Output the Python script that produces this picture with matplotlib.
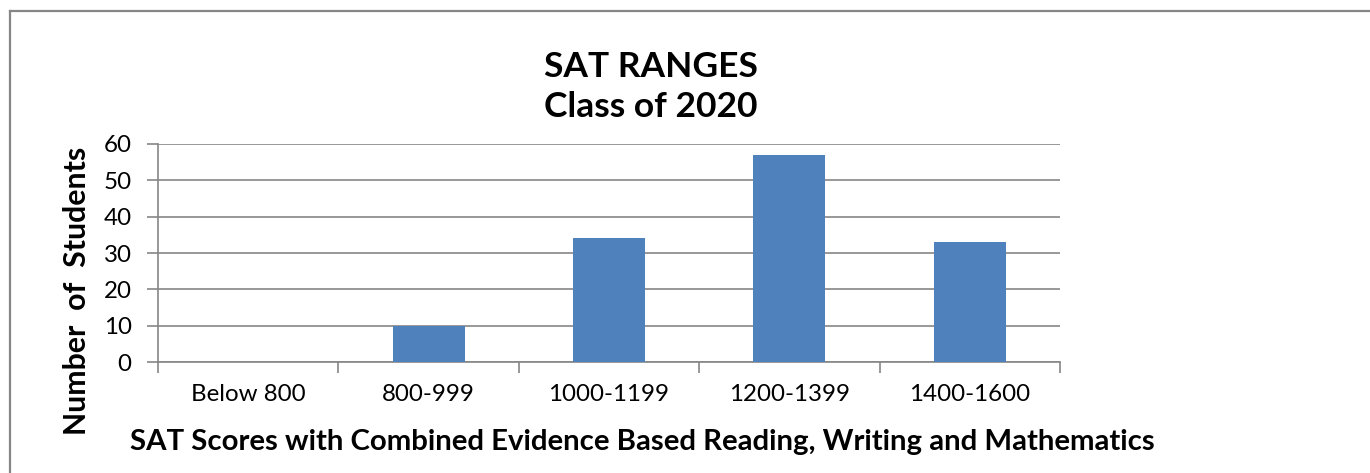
import matplotlib.pyplot as plt
from matplotlib.lines import Line2D

categories = ["Below 800", "800-999", "1000-1199", "1200-1399", "1400-1600"]
students = [0, 10, 34, 57, 33]
y_ticks = [0, 10, 20, 30, 40, 50, 60]

title_lines = ["SAT RANGES", "Class of 2020"]
x_title = "SAT Scores with Combined Evidence Based Reading, Writing and Mathematics"
y_title = "Number  of  Students"

W, H = 1370, 473
BAR = "#4F81BD"
GRID = "#868686"

plt.rcParams["font.family"] = ["Lato", "DejaVu Sans"]

fig = plt.figure(figsize=(W / 100, H / 100), dpi=100)
ax = fig.add_axes([158 / W, 1 - 362 / H, 902 / W, 218 / H])

xs = list(range(len(categories)))
ax.bar(xs, students, width=0.4, color=BAR, zorder=3)

ax.set_xlim(-0.5, len(categories) - 0.5)
ax.set_ylim(0, 60)
ax.set_yticks(y_ticks)
ax.yaxis.grid(True, color=GRID, linewidth=1.2, zorder=0)
ax.set_xticks(xs)
ax.set_xticklabels(categories)
ax.set_xticks([x - 0.5 for x in xs] + [xs[-1] + 0.5], minor=True)
ax.tick_params(axis="x", which="major", length=0, pad=15.5, labelsize=17.4)
ax.tick_params(axis="x", which="minor", length=8, width=1.2, color=GRID, direction="out")
ax.tick_params(axis="y", length=8, width=1.2, color=GRID, pad=11, labelsize=17.4)

for side in ("top", "right"):
    ax.spines[side].set_visible(False)
for side in ("left", "bottom"):
    ax.spines[side].set_color(GRID)
    ax.spines[side].set_linewidth(1.2)

fig.text(651 / W, 1 - 77 / H, title_lines[0], ha="center", va="baseline",
         fontsize=25.5, fontweight="bold")
fig.text(651 / W, 1 - 117 / H, title_lines[1], ha="center", va="baseline",
         fontsize=25.5, fontweight="bold")
fig.text(642 / W, 1 - 450 / H, x_title, ha="center", va="baseline",
         fontsize=21.2, fontweight="bold")
fig.text(77 / W, 1 - 291 / H, y_title, ha="center", va="center",
         rotation=90, fontsize=21.8, fontweight="bold")

# chart frame (only the top and left edges fall inside the image)
fig.add_artist(Line2D([9.5 / W, 9.5 / W], [0, 1 - 11 / H], transform=fig.transFigure,
                      color=GRID, linewidth=1.6))
fig.add_artist(Line2D([9.5 / W, 1], [1 - 11 / H, 1 - 11 / H], transform=fig.transFigure,
                      color=GRID, linewidth=1.6))

fig.savefig("out.png", dpi=100)
